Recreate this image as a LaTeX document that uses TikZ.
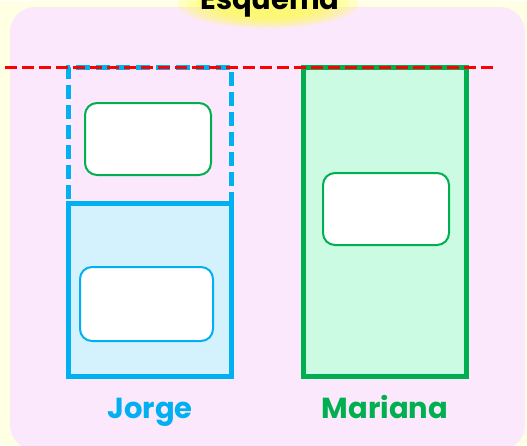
\documentclass[tikz,border=0pt]{standalone}
\usepackage{fontspec}
\setmainfont{Poppins}
\definecolor{bluec}{HTML}{00B0F0}
\definecolor{greenc}{HTML}{00B050}
\definecolor{pinkbg}{HTML}{FCE8FC}
\definecolor{lightblue}{HTML}{D4F2FE}
\definecolor{lightgreen}{HTML}{CCFBE3}
\definecolor{paleyellow}{HTML}{FFFFE4}
\definecolor{glow}{HTML}{FFFF40}
\definecolor{redc}{HTML}{FF0000}
\tikzset{
  outerbox/.style={line width=5pt, inner sep=0pt, outer sep=0pt},
  innerbox/.style={fill=white, line width=2pt, rounded corners=12pt, inner sep=0pt},
  lbl/.style={font=\bfseries\fontsize{29}{31}\selectfont, anchor=base},
}
\begin{document}
\begin{tikzpicture}[x=1pt,y=-1pt]
\useasboundingbox (0,0) rectangle (527,445);
\fill[paleyellow] (0,0) rectangle (527,445);
\draw[white, line width=0.8pt, step=6pt] (0,-445) grid (527,0);
\fill[pinkbg, rounded corners=25pt] (10,7) rectangle (525,450);
% glow behind title
\foreach \r/\s in {1.0/1.0,0.9/0.9,0.8/0.8,0.7/0.7,0.6/0.6}{
  \fill[glow, opacity=0.22] (268,4) ellipse [x radius={90*\r}, y radius={24*\s}];
}
\node[lbl, text=black] (title) at (270,9) {Esquema};
% Jorge
\node[outerbox, draw=bluec, dash pattern=on 14pt off 6pt, minimum width=163pt, minimum height=136pt] (jtop) at (149.5,135) {};
\node[outerbox, draw=bluec, fill=lightblue, minimum width=163pt, minimum height=173pt] (jbot) at (149.5,289.5) {};
\node[innerbox, draw=greenc, minimum width=126pt, minimum height=72pt] (jtin) at (148,139) {};
\node[innerbox, draw=bluec, minimum width=133pt, minimum height=74pt] (jbin) at (146.5,304) {};
% Mariana
\node[outerbox, draw=greenc, fill=lightgreen, minimum width=163pt, minimum height=309pt] (mar) at (384.5,221.5) {};
\node[innerbox, draw=greenc, minimum width=126pt, minimum height=72pt] (min) at (386,209) {};
% labels
\node[lbl, text=bluec] (jl) at (150,418) {Jorge};
\node[lbl, text=greenc] (ml) at (385,418) {Mariana};
% red dashed line
\coordinate (rl) at (5,67);
\coordinate (rr) at (495,67);
\draw[redc, line width=3pt, dash pattern=on 12pt off 5pt] (rl) -- (rr);
\end{tikzpicture}
\end{document}
